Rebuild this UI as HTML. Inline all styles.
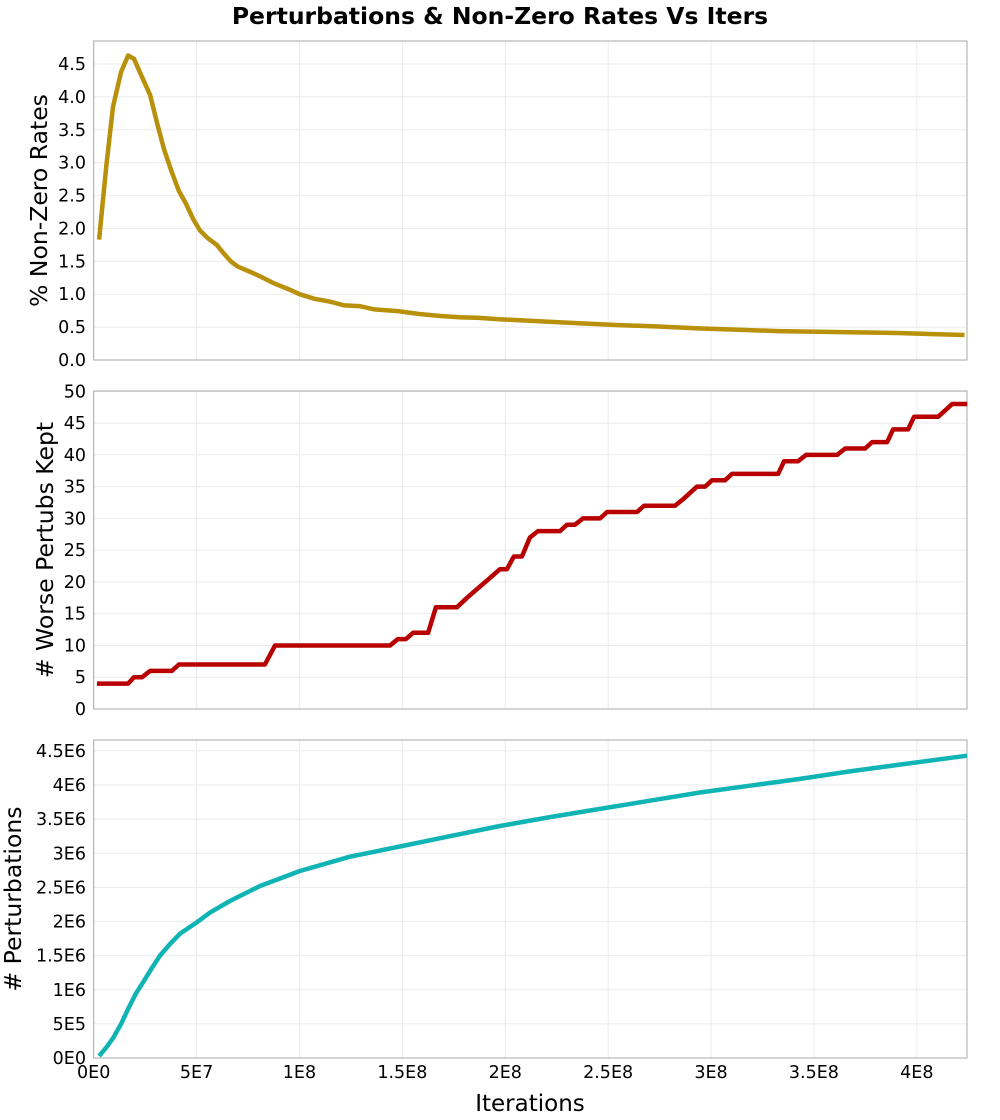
<!DOCTYPE html>
<html><head><meta charset="utf-8"><style>
html,body{margin:0;padding:0;background:#fff;}
svg{display:block;font-family:"DejaVu Sans","Liberation Sans",sans-serif;}
</style></head><body>
<svg id="chart" width="1000" height="1120" viewBox="0 0 1000 1120">
<text x="500" y="24" text-anchor="middle" font-size="23.5" font-weight="bold">Perturbations &amp; Non-Zero Rates Vs Iters</text>
<text x="530" y="1111" text-anchor="middle" font-size="23">Iterations</text>
</svg>
<script>
// x values in millions of iterations
const rateX=[2.6,6.1,9.4,13.3,16.7,19.6,23.5,27.4,30.8,34.2,38.0,41.4,44.8,48.2,51.6,55.5,59.8,63.2,66.6,70.0,76.8,81.6,88.0,95.2,100,107.3,114.6,121.9,129.1,136.4,148.5,158.2,167.9,177.6,187.3,197,216.4,235.7,255.1,274.5,293.9,313.2,332.6,352,371.4,390.7,410.1,423.2];
const rateY=[1.83,2.95,3.85,4.38,4.63,4.58,4.3,4.03,3.6,3.2,2.85,2.57,2.38,2.15,1.97,1.85,1.75,1.62,1.5,1.42,1.33,1.26,1.16,1.07,1.0,0.93,0.89,0.83,0.82,0.77,0.74,0.7,0.67,0.65,0.64,0.62,0.59,0.56,0.53,0.51,0.48,0.46,0.44,0.43,0.42,0.41,0.39,0.38];
const worseX=[1.6,16.7,19.6,23.5,27.4,38.0,41.4,83.2,88.1,144,147.8,151.7,155.2,162.5,166.3,176.5,181.4,186.7,192.1,197.4,200.8,204.2,208.1,212,215.9,226.6,230,233.9,237.8,246.1,249.5,264.1,267.5,282.5,286.4,293.2,297.1,300.5,306.8,310.2,332.6,335.5,342.3,346.2,361.3,365.2,374.9,378.3,385.6,388.5,395.8,398.7,410.4,417.2,424.5];
const worseY=[4,4,5,5,6,6,7,7,10,10,11,11,12,12,16,16,17.5,19,20.5,22,22,24,24,27,28,28,29,29,30,30,31,31,32,32,33,35,35,36,36,37,37,39,39,40,40,41,41,42,42,44,44,46,46,48,48];
const pertX=[2.6,6,9.4,13.3,16.7,20.6,24.4,28.3,32.2,37.1,41.9,49.7,56.5,66.2,80.8,100.2,124.5,148.8,173.1,197.4,221.7,246,270.3,294.6,318.9,343.2,367.5,391.8,424.4];
const pertY=[0.03,0.15,0.29,0.5,0.72,0.95,1.13,1.32,1.5,1.67,1.82,1.98,2.13,2.30,2.52,2.74,2.95,3.1,3.25,3.4,3.53,3.65,3.77,3.89,3.99,4.09,4.2,4.3,4.43];
const xTicks=[0,50,100,150,200,250,300,350,400];
const xTickLabels=["0E0","5E7","1E8","1.5E8","2E8","2.5E8","3E8","3.5E8","4E8"];
const rateTicks=[0,0.5,1,1.5,2,2.5,3,3.5,4,4.5];
const rateTickLabels=["0.0","0.5","1.0","1.5","2.0","2.5","3.0","3.5","4.0","4.5"];
const worseTicks=[0,5,10,15,20,25,30,35,40,45,50];
const worseTickLabels=["0","5","10","15","20","25","30","35","40","45","50"];
const pertTicks=[0,0.5,1,1.5,2,2.5,3,3.5,4,4.5];
const pertTickLabels=["0E0","5E5","1E6","1.5E6","2E6","2.5E6","3E6","3.5E6","4E6","4.5E6"];

const NS="http://www.w3.org/2000/svg";
const svg=document.getElementById('chart');
const L=93.7,R=967,XMAX=424.4;
const xs=v=>L+v/XMAX*(R-L);
function mk(tag,attrs,parent){const e=document.createElementNS(NS,tag);for(const k in attrs)e.setAttribute(k,attrs[k]);(parent||svg).appendChild(e);return e;}
function panel(name,top,bot,ymax,ticks,labels,xs_,ys_,color,title,titleX,showX){
  const g=mk('g',{});
  
  
  const ys=v=>bot-v/ymax*(bot-top);
  xTicks.forEach((t,i)=>{const l=mk('line',{x1:xs(t),x2:xs(t),y1:top,y2:bot,stroke:'#ebebeb','stroke-width':1},g);
    
    if(showX){const tx=mk('text',{x:xs(t),y:bot+20,'text-anchor':'middle','font-size':17.5},g);tx.textContent=xTickLabels[i];
      }});
  ticks.forEach((t,i)=>{const y=ys(t);const l=mk('line',{x1:L,x2:R,y1:y,y2:y,stroke:'#ebebeb','stroke-width':1},g);
    
    const tx=mk('text',{x:86,y:y+6,'text-anchor':'end','font-size':17.5},g);tx.textContent=labels[i];
    });
  const r=mk('rect',{x:L,y:top,width:R-L,height:bot-top,fill:'none',stroke:'#aaa','stroke-width':1},g);
  
  const cx=(top+bot)/2;
  const tt=mk('text',{x:titleX,y:cx,'text-anchor':'middle','font-size':23.5,transform:`rotate(-90 ${titleX} ${cx})`},g);tt.textContent=title;
  
  const d=xs_.map((v,i)=>(i?'L':'M')+xs(v).toFixed(1)+' '+ys(ys_[i]).toFixed(1)).join(' ');
  const p=mk('path',{d:d,fill:'none',stroke:color,'stroke-width':4.5,'stroke-linejoin':'round'},g);
  
}
panel('non-zero-rates',41,360,4.85,rateTicks,rateTickLabels,rateX,rateY,'#b8900a','% Non-Zero Rates',47,false);
panel('worse-pertubs',391,709,50.05,worseTicks,worseTickLabels,worseX,worseY,'#b80000','# Worse Pertubs Kept',53,false);
panel('perturbations',740,1058,4.66,pertTicks,pertTickLabels,pertX,pertY,'#10b4b4','# Perturbations',21,true);
</script>
</body></html>
